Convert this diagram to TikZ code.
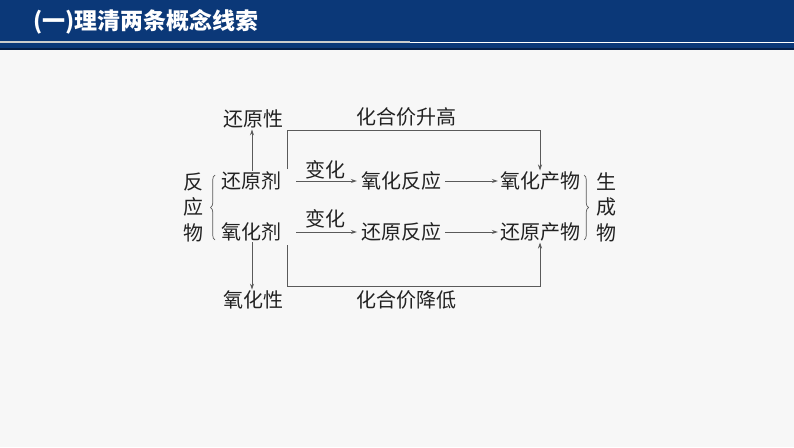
\documentclass[tikz,border=0pt]{standalone}
\usepackage{fontspec}
\newfontfamily\cjk{Noto Sans CJK SC}
\usetikzlibrary{decorations.pathreplacing,arrows.meta}
\definecolor{bg}{HTML}{F7F7F7}
\definecolor{band}{HTML}{0B3878}
\definecolor{banddark}{HTML}{06204A}
\definecolor{ink}{HTML}{222222}
\definecolor{lin}{HTML}{5A5A5A}
\begin{document}
\begin{tikzpicture}[x=1pt,y=-1pt,
  txt/.style={font=\cjk\fontsize{20}{25.5}\selectfont, text=ink, inner sep=1pt, align=center},
  conn/.style={draw=lin, line width=0.9pt},
  arr/.style={conn,-{Stealth[length=6pt,width=4pt]}},
  bracestyle/.style={draw=lin, line width=0.7pt, decorate, decoration={brace, amplitude=4.5pt}}]
\useasboundingbox (0,0) rectangle (794,447);
\fill[bg] (0,0) rectangle (794,447);
% header
\fill[band] (0,0) rectangle (794,50);
\draw[draw=banddark, line width=1.2pt] (0,49) -- (794,49);
\draw[draw=black!20, line width=2.5pt] (0,42) -- (410,42);
\draw[draw=white, line width=0.8pt] (410,42) -- (794,42);
\node[font=\cjk\bfseries\fontsize{23}{24}\selectfont, text=white, anchor=west, inner sep=0pt] (title) at (33,22) {(一)理清两条概念线索};
% nodes
\node[txt] (hys) at (253,119) {还原性};
\node[txt] (up) at (406,117) {化合价升高};
\node[txt] (hyj) at (251,181) {还原剂};
\node[txt] (yhj) at (251,232) {氧化剂};
\node[txt] (yhx) at (253,300) {氧化性};
\node[txt] (down) at (406,300) {化合价降低};
\node[txt] (bh1) at (325,170) {变化};
\node[txt] (bh2) at (325,219) {变化};
\node[txt] (yhfy) at (401,181) {氧化反应};
\node[txt] (hyfy) at (401,232) {还原反应};
\node[txt] (yhcw) at (540,181) {氧化产物};
\node[txt] (hycw) at (540,232) {还原产物};
\node[txt] (fyw) at (193,207) {反\\应\\物};
\node[txt] (scw) at (606,207) {生\\成\\物};
% braces
\draw[bracestyle] (215,240) -- (215,175);
\draw[bracestyle] (584,175) -- (584,240);
% vertical arrows
\draw[arr] ([xshift=1pt]hyj.north) -- ([xshift=-1pt]hys.south);
\draw[arr] ([xshift=1pt]yhj.south) -- ([xshift=-1pt]yhx.north);
% horizontal arrows
\draw[arr] ([xshift=14pt]hyj.east) -- ([xshift=-3pt]yhfy.west);
\draw[arr] ([xshift=14pt]yhj.east) -- ([xshift=-3pt]hyfy.west);
\draw[arr] ([xshift=3pt]yhfy.east) -- ([xshift=-1pt]yhcw.west);
\draw[arr] ([xshift=3pt]hyfy.east) -- ([xshift=-1pt]hycw.west);
% valence brackets
\coordinate (ts) at (287,169);
\coordinate (tc) at (287,130);
\coordinate (bs) at (287,245);
\coordinate (bc) at (287,286);
\draw[arr] (ts) -- (tc) -| (yhcw.north);
\draw[arr] (bs) -- (bc) -| (hycw.south);
\end{tikzpicture}
\end{document}
